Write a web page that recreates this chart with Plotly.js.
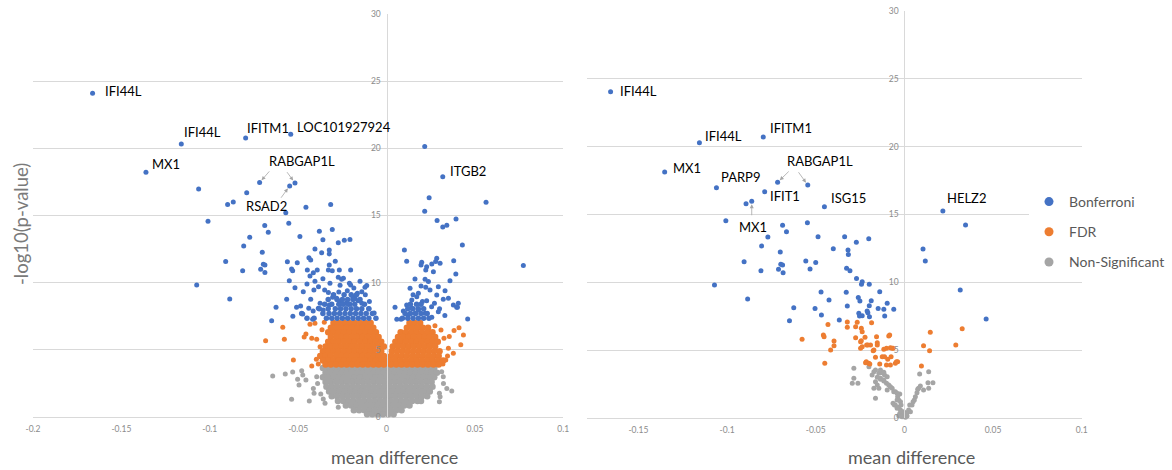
<!DOCTYPE html>
<html><head><meta charset="utf-8">
<script src="https://cdn.plot.ly/plotly-3.0.1.min.js"></script>
<style>html,body{margin:0;padding:0;background:#fff;}#chart{width:1172px;height:470px;}</style>
</head><body><div id="chart"></div>
<script>
// ---------------- DATA ----------------
const seriesNames = ['Bonferroni', 'FDR', 'Non-Significant'];
const xTicksLeft = [-0.2, -0.15, -0.1, -0.05, 0, 0.05, 0.1];
const xTickTextLeft = ['-0.2', '-0.15', '-0.1', '-0.05', '0', '0.05', '0.1'];
const xTicksRight = [-0.15, -0.1, -0.05, 0, 0.05, 0.1];
const xTickTextRight = ['-0.15', '-0.1', '-0.05', '0', '0.05', '0.1'];
const yTicks = [0, 5, 10, 15, 20, 25, 30];
const yTickText = ['0', '5', '10', '15', '20', '25', '30'];
const xTitle = 'mean difference';
const yTitle = '-log10(p-value)';

// Left panel, Bonferroni: individual points [mean difference, -log10 p]
const leftBonfPts = [
 [-0.1663,24.1],[-0.1161,20.33],[-0.1361,18.22],[-0.0797,20.77],[-0.0542,21.05],
 [-0.0718,17.45],[-0.0518,17.42],[-0.0548,17.2],[0.0318,17.89],[0.0216,20.13],
 [-0.1063,16.98],[-0.0791,16.70],[-0.0899,15.81],[-0.0867,16.01],[-0.1010,14.57],
 [-0.0570,15.21],[-0.0456,15.61],[-0.0316,15.81],[-0.0553,14.42],[-0.0689,14.25],[-0.0669,13.75],
 [-0.0380,13.83],[-0.0307,13.95],[-0.0774,13.38],[-0.0490,13.43],[-0.0360,13.2],
 [-0.0239,13.15],[-0.0207,13.22],[-0.0273,12.98],[-0.0405,12.51],[-0.0324,12.43],[-0.0367,12.23],
 [-0.0324,12.14],[-0.0439,11.86],[-0.0429,11.69],[-0.0561,11.56],[-0.0505,11.49],[-0.0324,11.32],
 [-0.0537,11.02],[-0.0531,10.89],[-0.0448,10.95],[-0.0414,10.74],[-0.0392,10.95],[-0.0329,10.95],
 [-0.0307,10.89],[-0.0267,10.95],[-0.0203,10.95],[-0.0433,10.50],[-0.0273,10.40],[-0.0254,10.25],
 [-0.0244,10.33],[-0.0550,10.15],[-0.0405,10.10],[-0.0320,9.96],[-0.0210,9.96],[-0.0203,9.83],
 [-0.0263,9.81],[-0.0112,9.78],[-0.0122,9.66],[-0.0518,9.63],[-0.0411,9.46],[-0.0471,9.33],
 [-0.0329,9.26],[-0.0222,9.40],[-0.0140,9.33],[-0.0165,9.21],[-0.0305,8.91],[-0.0282,8.84],
 [-0.0191,8.96],[-0.0178,8.81],[-0.0429,8.77],[-0.0565,8.77],[-0.0263,8.59],[-0.0160,8.66],
 [-0.0376,8.47],[-0.0324,8.34],[-0.0229,8.47],[-0.0207,8.41],[-0.0140,8.47],[-0.0097,8.59],
 [-0.0509,8.17],[-0.0486,8.26],[-0.0625,8.17],[-0.0386,8.09],[-0.0358,7.97],
 [-0.0808,12.73],[-0.0703,12.26],[-0.0910,11.57],[-0.0697,11.37],[-0.0688,11.32],[-0.0712,11.0],
 [-0.0688,10.75],[-0.0814,10.89],[-0.1074,9.83],[-0.0887,8.79],[-0.0650,7.17],[-0.0474,7.67],[-0.0418,7.27],
 [-0.0450,9.9],[-0.0385,9.7],[-0.0350,9.45],[-0.0270,9.3],[-0.0185,9.6],[-0.0150,10.1],[-0.0120,9.1],
 [-0.0440,8.1],[-0.0415,7.9],[-0.0100,8.05],[-0.0070,7.75],[-0.0530,7.5],[-0.0360,10.3],[-0.0290,11.6],
 [0.0241,16.33],[0.0216,15.32],[0.0563,15.99],[0.0286,14.62],[0.0393,14.74],[0.0318,14.15],[0.0341,14.27],
 [0.0429,12.81],[0.0101,12.43],[0.0114,11.59],[0.0380,11.64],[0.0284,11.82],[0.0278,11.57],[0.0303,11.44],
 [0.0199,11.52],[0.0195,11.32],[0.0227,11.19],[0.0256,11.39],[0.0222,10.95],[0.0265,10.82],[0.0392,10.65],
 [0.0161,10.28],[0.0218,10.25],[0.0237,10.08],[0.0359,10.15],[0.0195,9.75],[0.0222,9.66],[0.0246,9.46],
 [0.0293,9.70],[0.0133,9.58],[0.0180,9.21],[0.0331,9.40],[0.0350,8.84],[0.0284,9.08],[0.0171,8.96],
 [0.0143,8.71],[0.0203,8.59],[0.0227,8.66],[0.0321,8.76],[0.0378,8.34],[0.0397,8.17],[0.0048,8.17],
 [0.0271,8.47],[0.0114,8.34],[0.0139,8.09],[0.0293,7.84],[0.0180,7.97],[0.0161,7.72],[0.0218,7.72],
 [0.0058,7.27],[0.0082,7.27],[0.0459,7.30],[0.0256,7.42],[0.0123,7.59],[0.0774,11.27],[0.0406,8.47],[0.0401,8.17],
 [0.0150,9.1],[0.0255,8.2],[0.0300,8.05],[0.0330,7.55],[0.0095,7.9]
];
// Left panel, Bonferroni: dense band just above the FDR cut-off, rows of [y, [x...]]
const leftBonfRows = [
 [7.35,[-0.045,-0.041,-0.034,-0.031,-0.028,-0.025,-0.022,-0.019,-0.016,-0.013,-0.010,-0.006,0.009,0.012,0.015,0.018,0.021,0.024]],
 [7.7,[-0.048,-0.036,-0.0325,-0.0295,-0.0265,-0.0235,-0.0205,-0.0175,-0.0145,-0.0115,-0.008,0.0105,0.0135,0.0165,0.0195,0.023]],
 [8.05,[-0.038,-0.033,-0.029,-0.026,-0.023,-0.020,-0.017,-0.014,-0.010,0.012,0.015,0.018,0.021]],
 [8.4,[-0.035,-0.031,-0.027,-0.0245,-0.0215,-0.018,-0.0125,0.0135,0.017,0.0195]],
 [8.75,[-0.033,-0.028,-0.025,-0.022,-0.019,-0.015]],
 [9.1,[-0.030,-0.024,-0.020,-0.017]]
];
// Left panel, FDR
const leftFdrPts = [
 [-0.0587,6.68],[-0.0684,5.68],[-0.0578,5.78],[-0.0527,4.24],[-0.0456,6.18],[-0.0466,5.95],[-0.0423,5.86],
 [-0.0395,5.78],[-0.0433,6.9],[-0.0405,6.98],[-0.0376,5.23],[-0.0372,4.62],[-0.0386,3.95],[-0.0423,3.8],
 [-0.0348,4.74],[-0.0397,4.3],[-0.0365,6.5],[-0.0352,7.05],
 [0.0382,6.43],[0.0420,5.38],[0.0378,4.74],[0.0350,5.12],[0.0335,4.24],[0.0325,5.86],[0.0308,6.48],
 [0.0274,6.8],[0.0345,4.55],[0.0355,6.0],[0.0435,6.1],[0.0410,6.65],[0.0319,3.95]
];
const leftFdrRows = [
 [7.0,[-0.030,-0.027,-0.024,-0.021,-0.018,-0.015,-0.012,-0.009,0.013,0.016,0.019]],
 [6.65,[-0.0315,-0.0285,-0.0255,-0.0225,-0.0195,-0.0165,-0.0135,-0.0105,-0.0075,0.0115,0.0145,0.0175,0.0205,0.0235]],
 [6.3,[-0.033,-0.030,-0.027,-0.024,-0.021,-0.018,-0.015,-0.012,-0.009,-0.006,0.008,0.011,0.014,0.017,0.020,0.023,0.026]],
 [5.95,[-0.0315,-0.0285,-0.0255,-0.0225,-0.0195,-0.0165,-0.0135,-0.0105,-0.0075,-0.0045,0.0065,0.0095,0.0125,0.0155,0.0185,0.0215,0.0245,0.0275]],
 [5.6,[-0.033,-0.030,-0.027,-0.024,-0.021,-0.018,-0.015,-0.012,-0.009,-0.006,-0.003,0.005,0.008,0.011,0.014,0.017,0.020,0.023,0.026,0.029]],
 [5.25,[-0.0345,-0.0315,-0.0285,-0.0255,-0.0225,-0.0195,-0.0165,-0.0135,-0.0105,-0.0075,-0.0045,-0.0015,0.0035,0.0065,0.0095,0.0125,0.0155,0.0185,0.0215,0.0245,0.0275]],
 [4.9,[-0.036,-0.033,-0.030,-0.027,-0.024,-0.021,-0.018,-0.015,-0.012,-0.009,-0.006,-0.003,0.003,0.006,0.009,0.012,0.015,0.018,0.021,0.024,0.027,0.030]],
 [4.55,[-0.0375,-0.0345,-0.0315,-0.0285,-0.0255,-0.0225,-0.0195,-0.0165,-0.0135,-0.0105,-0.0075,-0.0045,-0.0015,0.0025,0.0055,0.0085,0.0115,0.0145,0.0175,0.0205,0.0235,0.0265,0.0295]],
 [4.2,[-0.036,-0.033,-0.030,-0.027,-0.024,-0.021,-0.018,-0.015,-0.012,-0.009,-0.006,-0.003,0,0.002,0.005,0.008,0.011,0.014,0.017,0.020,0.023,0.026,0.029,0.032]],
 [3.9,[-0.0345,-0.0315,-0.0285,-0.0255,-0.0225,-0.0195,-0.0165,-0.0135,-0.0105,-0.0075,-0.0045,-0.0015,0.0025,0.0055,0.0085,0.0115,0.0145,0.0175,0.0205,0.0235,0.0265,0.0295]]
];
// Left panel, non-significant
const leftNsPts = [
 [-0.0644,3.05],[-0.0573,3.2],[-0.0531,3.35],[-0.0480,3.45],[-0.0474,3.13],[-0.0503,2.81],[-0.0456,2.76],
 [-0.0495,2.38],[-0.0414,2.13],[-0.0410,1.76],[-0.0372,1.71],[-0.0537,1.32],[-0.0437,1.19],[-0.0358,1.34],
 [-0.0348,1.02],[-0.0273,0.72],[-0.0395,3.0],[-0.0390,2.5],
 [0.0341,2.13],[0.0369,1.94],[0.0303,1.51],[0.0299,1.14],[0.0321,3.0],[0.0312,3.37],[0.0299,1.77],[0.0322,2.5]
];
const leftNsRows = [
 [3.65,[-0.036,-0.033,-0.03,-0.027,-0.024,-0.021,-0.018,-0.015,-0.012,-0.009,-0.006,-0.003,0,0.003,0.006,0.009,0.012,0.015,0.018,0.021,0.024,0.027]],
 [3.3,[-0.0345,-0.0315,-0.0285,-0.0255,-0.0225,-0.0195,-0.0165,-0.0135,-0.0105,-0.0075,-0.0045,-0.0015,0.0015,0.0045,0.0075,0.0105,0.0135,0.0165,0.0195,0.0225,0.0255,0.0285]],
 [2.95,[-0.036,-0.033,-0.03,-0.027,-0.024,-0.021,-0.018,-0.015,-0.012,-0.009,-0.006,-0.003,0,0.003,0.006,0.009,0.012,0.015,0.018,0.021,0.024,0.027]],
 [2.6,[-0.0345,-0.0315,-0.0285,-0.0255,-0.0225,-0.0195,-0.0165,-0.0135,-0.0105,-0.0075,-0.0045,-0.0015,0.0015,0.0045,0.0075,0.0105,0.0135,0.0165,0.0195,0.0225,0.0255]],
 [2.25,[-0.034,-0.031,-0.028,-0.025,-0.022,-0.019,-0.016,-0.013,-0.01,-0.007,-0.004,-0.001,0.002,0.005,0.008,0.011,0.014,0.017,0.02,0.023,0.026]],
 [1.9,[-0.0325,-0.0295,-0.0265,-0.0235,-0.0205,-0.0175,-0.0145,-0.0115,-0.0085,-0.0055,-0.0025,0.0005,0.0035,0.0065,0.0095,0.0125,0.0155,0.0185,0.0215,0.0245]],
 [1.55,[-0.031,-0.028,-0.025,-0.022,-0.019,-0.016,-0.013,-0.01,-0.007,-0.004,-0.001,0.002,0.005,0.008,0.011,0.014,0.017,0.02,0.023]],
 [1.2,[-0.0275,-0.0245,-0.0215,-0.0185,-0.0155,-0.0125,-0.0095,-0.0065,-0.0035,-0.0005,0.0025,0.0055,0.0085,0.0115,0.0145,0.0175,0.0195]],
 [0.85,[-0.023,-0.02,-0.017,-0.014,-0.011,-0.008,-0.005,-0.002,0.001,0.004,0.007,0.01,0.013]],
 [0.5,[-0.0185,-0.0155,-0.0125,-0.0095,-0.0065,-0.0035,-0.0005,0.0025,0.0055,0.0085]],
 [0.2,[-0.011,-0.008,-0.005,-0.002,0.001,0.004]]
];

// Right panel
const rightBonfPts = [
 [-0.1657,24.05],[-0.1156,20.29],[-0.0796,20.71],[-0.1352,18.13],[-0.1060,16.97],[-0.0715,17.37],[-0.0545,17.17],
 [-0.0788,16.68],[-0.0451,15.57],[-0.0893,15.79],[-0.0861,15.97],
 [-0.1007,14.54],[-0.0687,14.2],[-0.0665,13.73],[-0.0547,14.39],[-0.0770,13.34],[-0.0487,13.36],[-0.0337,13.36],
 [-0.0201,13.21],[-0.0271,12.95],[-0.0805,12.68],[-0.0401,12.48],[-0.0318,12.38],[-0.0316,12.06],[-0.0700,12.23],
 [-0.0904,11.52],[-0.0809,10.86],[-0.0710,10.96],[-0.0697,11.33],[-0.0687,11.27],[-0.0684,10.71],[-0.0556,11.57],
 [-0.0500,11.47],[-0.0532,10.98],[-0.0326,11.03],[-0.0307,10.86],[-0.1071,9.80],[-0.0884,8.77],[-0.0470,9.29],
 [-0.0328,9.26],[-0.0425,8.70],[-0.0260,8.89],[-0.0624,8.13],[-0.0504,8.08],[-0.0322,8.25],[-0.0468,7.59],
 [-0.0648,7.17],[-0.0367,7.22],[-0.0270,10.29],[-0.0238,10.04],[-0.0242,9.85],[-0.0198,9.85],[-0.0139,9.31],
 [-0.0251,8.62],[-0.0198,8.28],[-0.0187,8.64],[-0.0257,7.72],[-0.0238,7.54],[-0.0148,8.08],[-0.0206,7.75],
 [-0.0197,7.47],[-0.0116,8.01],[-0.0097,8.45],[-0.0060,8.01],[-0.0111,7.52],[-0.0253,7.52],[-0.0210,7.88],
 [0.0217,15.25],[0.0345,14.22],[0.0105,12.45],[0.0118,11.57],[0.0315,9.43],[0.0461,7.30]
];
const rightFdrPts = [
 [-0.0577,5.80],[-0.0431,6.90],[-0.0457,6.12],[-0.0453,5.99],[-0.0397,5.67],[-0.0397,5.33],[-0.0416,5.01],
 [-0.0449,4.03],[-0.0322,7.07],[-0.0322,6.68],[-0.0275,6.73],[-0.0266,7.05],[-0.0243,6.61],[-0.0238,6.36],
 [-0.0275,5.92],[-0.0222,5.95],[-0.0243,5.70],[-0.0213,5.38],[-0.0191,5.38],[-0.0238,5.26],[-0.0157,5.99],
 [-0.0153,5.55],[-0.0176,4.96],[-0.0163,4.47],[-0.0215,4.15],[-0.0201,4.03],[-0.0185,7.02],[-0.0247,5.62],
 [-0.0247,5.14],[-0.0206,5.38],[-0.0153,5.38],[-0.0172,5.01],[-0.0088,6.04],[-0.0116,5.06],[-0.0101,5.14],
 [-0.0079,5.18],[-0.0064,5.14],[-0.0125,4.52],[-0.0075,4.52],[-0.0219,4.08],[-0.0195,3.98],[-0.0139,3.98],
 [-0.0101,3.91],[-0.0079,3.91],[-0.0051,4.03],[-0.0038,4.15],[-0.0094,4.33],[-0.0083,6.12],[-0.0069,5.14],
 [-0.0045,4.15],[-0.0112,4.52],
 [0.0146,6.32],[0.0108,5.33],[0.0142,4.96],[0.0096,3.83],[0.0326,6.58],[0.0290,5.38]
];
const rightNsPts = [
 [-0.0285,3.66],[-0.0285,2.93],[-0.0294,2.56],[-0.0262,2.56],[-0.0200,3.78],[-0.0172,3.41],[-0.0163,3.54],
 [-0.0144,3.29],[-0.0125,3.34],[-0.0112,3.17],[-0.0097,3.04],[-0.0182,3.17],[-0.0153,3.0],[-0.0135,2.85],
 [-0.0116,2.73],[-0.0101,2.56],[-0.0079,2.31],[-0.0069,2.19],[-0.0163,2.68],[-0.0153,2.43],[-0.0144,2.19],
 [-0.0172,2.19],[-0.0097,2.06],[-0.0088,2.43],[-0.0051,1.94],[-0.0026,1.77],[-0.0041,1.33],[-0.0064,1.08],
 [-0.0051,0.96],[-0.0032,0.79],[-0.0022,0.59],[-0.0026,0.34],[-0.0007,0.22],[-0.0013,0.1],[0.0002,0.22],
 [0.0015,0.39],[0.0024,0.59],[0.0034,0.46],[0.0043,0.96],[0.0049,1.2],[0.0062,1.57],[0.0071,1.86],
 [0.0080,2.19],[0.0090,2.36],[0.0075,2.11],[0.0030,0.96],[0.0056,1.33],[0.0086,3.24],[0.0137,3.41],
 [0.0133,2.6],[0.0161,2.6],[0.0137,2.19],[0.0108,2.06],[0.0006,0.05],[-0.0004,0.46],[-0.0032,0.17],
 [-0.0163,1.45],[-0.0060,1.94],[-0.0041,1.82],[-0.0038,1.57],[-0.0032,1.33],[-0.0022,1.2],[-0.0019,0.96],
 [-0.0041,0.71],[-0.0056,0.96],[0.0015,0.15],[0.0006,0.29],[-0.0135,3.54],[-0.0116,3.37],[-0.0135,2.93],[-0.0116,2.8]
];

// Gene labels (name, point it belongs to)
const leftLabelText = ['IFI44L','IFI44L','IFITM1','LOC101927924','MX1','RABGAP1L','RSAD2','ITGB2'];
const leftLabelPts = [[-0.1663,24.1],[-0.1161,20.33],[-0.0797,20.77],[-0.0542,21.05],[-0.1361,18.22],[-0.0518,17.42],[-0.0548,17.2],[0.0318,17.89]];
const leftArrowPts = [[-0.0718,17.45],[-0.0518,17.42],[-0.0548,17.2]];
const rightLabelText = ['IFI44L','IFI44L','IFITM1','MX1','PARP9','RABGAP1L','IFIT1','ISG15','MX1','HELZ2'];
const rightLabelPts = [[-0.1657,24.05],[-0.1156,20.29],[-0.0796,20.71],[-0.1352,18.13],[-0.1060,16.97],[-0.0545,17.17],[-0.0788,16.68],[-0.0451,15.57],[-0.0861,15.97],[0.0217,15.25]];
const rightArrowPts = [[-0.0715,17.37],[-0.0545,17.17],[-0.0861,15.97]];

// ---------------- STYLE / LAYOUT ----------------
const W = 1172, H = 470;
const COLORS = {'Bonferroni':'#4472C4','FDR':'#ED7D31','Non-Significant':'#A5A5A5'};
const MS = 5;          // marker size for individual points
const MS_DENSE = 6.5;  // marker size for packed cloud rows (solid look)
const FONT = 'Lato, "Open Sans", sans-serif';

function flat(points, rows, denseSize) {
  const xs = [], ys = [], ss = [];
  points.forEach(p => { xs.push(p[0]); ys.push(p[1]); ss.push(MS); });
  (rows || []).forEach(r => r[1].forEach(x => { xs.push(x); ys.push(r[0]); ss.push(denseSize || MS); }));
  return {x: xs, y: ys, s: ss};
}
function tr(d, name, xa, ya) {
  return {type:'scatter', mode:'markers', x:d.x, y:d.y, xaxis:xa, yaxis:ya, name:name,
    showlegend:false, legendgroup:name, cliponaxis:false, hoverinfo:'skip',
    marker:{size:d.s, color:COLORS[name], opacity:1, line:{width:0}}};
}
const traces = [
  tr(flat(leftNsPts, leftNsRows, MS_DENSE), seriesNames[2], 'x', 'y'),
  tr(flat(leftFdrPts, leftFdrRows, MS_DENSE), seriesNames[1], 'x', 'y'),
  tr(flat(leftBonfPts, leftBonfRows, 5.5), seriesNames[0], 'x', 'y'),
  tr(flat(rightNsPts), seriesNames[2], 'x2', 'y2'),
  tr(flat(rightFdrPts), seriesNames[1], 'x2', 'y2'),
  tr(flat(rightBonfPts), seriesNames[0], 'x2', 'y2')
];
seriesNames.forEach(n => traces.push({type:'scatter', mode:'markers', x:[null], y:[null], xaxis:'x', yaxis:'y',
  name:n, legendgroup:n, showlegend:true, marker:{size:9, color:COLORS[n], opacity:1, line:{width:0}}}));

// label offsets in pixels [xshift, yshift, anchor]
const leftLabelShift = [[10.6,2.3],[0.4,12.3],[-0.7,10.3],[4.3,7.6],[4,8],[-28.3,22],[-45.4,-19.7],[5.6,6]];
const leftArrowTail = [[11,-12.7],[-9,-12.3],[-9.7,13.3]];
const rightLabelShift = [[7,1],[3.4,6.7],[4.4,9],[6.7,4],[3,10.4],[-23,24.3],[3.6,-4.3],[4.6,8.4],[1.3,-25.4,'center'],[2.3,12.7]];
const rightArrowTail = [[12.6,-12.3],[-10.3,-14.3],[0,15.4]];

const annotations = [];
function addLabels(texts, pts, shifts, xr, yr) {
  texts.forEach((t, i) => annotations.push({text:t, x:pts[i][0], y:pts[i][1], xref:xr, yref:yr,
    showarrow:false, xanchor:shifts[i][2] || 'left', yanchor:'middle', xshift:shifts[i][0], yshift:shifts[i][1],
    font:{family:FONT, size:13, color:'#000'}}));
}
function addArrows(pts, tails, xr, yr) {
  pts.forEach((p, i) => annotations.push({text:'', x:p[0], y:p[1], xref:xr, yref:yr, showarrow:true,
    ax:tails[i][0], ay:tails[i][1], arrowhead:2, arrowsize:1, arrowwidth:0.8, arrowcolor:'#a6a6a6', standoff:3}));
}
addLabels(leftLabelText, leftLabelPts, leftLabelShift, 'x', 'y');
addArrows(leftArrowPts, leftArrowTail, 'x', 'y');
addLabels(rightLabelText, rightLabelPts, rightLabelShift, 'x2', 'y2');
addArrows(rightArrowPts, rightArrowTail, 'x2', 'y2');
// axis titles
annotations.push({text:xTitle, xref:'paper', yref:'paper', x:394/W, y:(H-457)/H, xanchor:'center', yanchor:'middle', showarrow:false, font:{family:FONT, size:18, color:'#595959'}});
annotations.push({text:xTitle, xref:'paper', yref:'paper', x:911/W, y:(H-457)/H, xanchor:'center', yanchor:'middle', showarrow:false, font:{family:FONT, size:18, color:'#595959'}});
annotations.push({text:yTitle, xref:'paper', yref:'paper', x:21/W, y:(H-224)/H, xanchor:'center', yanchor:'middle', textangle:-90, showarrow:false, font:{family:FONT, size:18.5, color:'#7a7a7a'}});

const tickFont = {family:FONT, size:8.5, color:'#8c8c8c'};
function xAx(domain, range, tv, tt) {
  return {domain:domain, range:range, tickvals:tv, ticktext:tt, showgrid:false, zeroline:false, showline:false,
    ticks:'', tickfont:tickFont, fixedrange:true, ticklabelstandoff:5};
}
function yAx(domain, pos) {
  return {domain:domain, range:[0,30], tickvals:yTicks, ticktext:yTickText, showgrid:true, gridcolor:'#d9d9d9', gridwidth:1,
    zeroline:true, zerolinecolor:'#d9d9d9', zerolinewidth:1, showline:true, linecolor:'#d9d9d9', linewidth:1,
    anchor:'free', position:pos, ticks:'', tickfont:tickFont, fixedrange:true, ticklabelstandoff:4};
}
const layout = {
  width:W, height:H, margin:{l:0, r:0, t:0, b:0}, paper_bgcolor:'#fff', plot_bgcolor:'rgba(0,0,0,0)',
  font:{family:FONT},
  xaxis: Object.assign(xAx([33/W, 563.3/W], [-0.2, 0.1], xTicksLeft, xTickTextLeft), {anchor:'y'}),
  yaxis: yAx([(H-417)/H, (H-14)/H], 386.5/W),
  xaxis2: Object.assign(xAx([587/W, 1081.7/W], [-0.179, 0.1], xTicksRight, xTickTextRight), {anchor:'y2'}),
  yaxis2: yAx([(H-418)/H, (H-11)/H], 904.3/W),
  legend:{x:1029/W, xanchor:'left', y:1-186/H, yanchor:'top', bgcolor:'#fff', font:{family:FONT, size:14, color:'#595959'},
    tracegroupgap:9, traceorder:'grouped', itemclick:false, itemdoubleclick:false},
  annotations: annotations,
  hovermode:false
};
Plotly.newPlot('chart', traces, layout, {staticPlot:true, displayModeBar:false});
</script>
</body></html>
